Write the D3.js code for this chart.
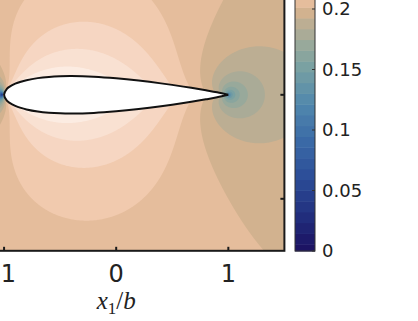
<!DOCTYPE html>
<html>
<head>
<meta charset="utf-8">
<script src="https://cdn.jsdelivr.net/npm/d3@7"></script>
<style>
  body { margin: 0; background: #fff; }
  svg { display: block; }
</style>
</head>
<body>
<svg id="chart" width="418" height="321"></svg>
<script>
// NACA 0018 ordinates, % of chord (chord spans x1/b = -1 .. 1)
const stationX = [0, 1.25, 2.5, 5, 7.5, 10, 15, 20, 25, 30, 40, 50, 60, 70, 80, 90, 95, 100];
const stationY = [0, 2.841, 3.922, 5.332, 6.300, 7.024, 8.018, 8.606, 8.912, 9.003, 8.705, 7.941, 6.845, 5.496, 3.935, 2.172, 1.213, 0];

// free stream value; source strength on the fore and aft parts of the chord
const freeStream = 0.2025;
const foreStrength = 1.0;
const aftStrength = 1.42;
// half height of the open jet around the airfoil (x1/b)
const jetHalfHeight = 2.6;
const imageCount = 5;

// contour levels
const levels = [0.0056, 0.0145, 0.0234, 0.0323, 0.0412, 0.0501, 0.059, 0.0679, 0.0768, 0.0857,
  0.0946, 0.1035, 0.1124, 0.1213, 0.1302, 0.1391, 0.148, 0.1569, 0.1658, 0.1747, 0.1836,
  0.1925, 0.2014, 0.2103, 0.2192, 0.2281, 0.237, 0.2459, 0.2548, 0.2637];

// colormap stops
const cmapValues = [0, 0.03, 0.06, 0.09, 0.12, 0.15, 0.17, 0.185, 0.197, 0.206, 0.215, 0.224, 0.233, 0.242, 0.251, 0.26];
const cmapColors = ["#1b1060", "#222f7e", "#2b4c97", "#3a69a6", "#4f86ad", "#76a0a3", "#98a99b", "#b5ad94",
  "#d2b28f", "#e5bd9c", "#f1caae", "#f6d7c3", "#f9e2d3", "#fcede3", "#fef6f1", "#ffffff"];

const xTicks = [-1, 0, 1];
const yTicks = [-1, 0, 1];
const cbTicks = [0, 0.05, 0.1, 0.15, 0.2];

const svg = d3.select("#chart");
const x = d3.scaleLinear([-1.5, 1.5], [-52, 284.4]);
const y = d3.scaleLinear([-1.5, 1.5], [250.8, -61.2]);
const color = d3.scaleLinear(cmapValues, cmapColors).clamp(true);
const bandColor = k => {
  const lo = k === 0 ? 0 : levels[k - 1];
  const hi = k < levels.length ? levels[k] : levels[levels.length - 1] + 0.009;
  return color((lo + hi) / 2);
};

// source panels along the chord, strength from the thickness slope,
// mirrored with alternating sign across the jet boundaries
const basePanels = d3.pairs(d3.zip(stationX, stationY)).map(([a, b]) => {
  const slope = (b[1] - a[1]) / (b[0] - a[0]);
  return {
    x1: -1 + a[0] / 50, x2: -1 + b[0] / 50,
    s: 2 * freeStream * slope * (slope > 0 ? foreStrength : aftStrength)
  };
});
const panels = d3.range(-imageCount, imageCount + 1).flatMap(n =>
  basePanels.map(p => ({...p, yc: 2 * n * jetHalfHeight, s: (n % 2 ? -1 : 1) * p.s})));

function speed(px, py) {
  let u = freeStream, v = 0;
  for (const p of panels) {
    const d1 = px - p.x1, d2 = px - p.x2, dy = py - p.yc;
    const r1 = d1 * d1 + dy * dy + 1e-9, r2 = d2 * d2 + dy * dy + 1e-9;
    u += p.s / (4 * Math.PI) * Math.log(r1 / r2);
    v += p.s / (2 * Math.PI) * (Math.atan2(dy, d2) - Math.atan2(dy, d1));
  }
  return Math.hypot(u, v);
}

// field sampled on the pixel grid of the plot area
const x0 = 0, x1 = Math.ceil(x(1.5)), y0 = 0, y1 = Math.ceil(y(-1.5));
const nx = x1 - x0 + 1, ny = y1 - y0 + 1;
const values = new Float64Array(nx * ny);
for (let j = 0; j < ny; j++) {
  for (let i = 0; i < nx; i++) {
    values[i + j * nx] = speed(x.invert(x0 + i), y.invert(y0 + j));
  }
}

svg.append("defs").append("clipPath").attr("id", "plotclip")
  .append("rect")
  .attr("x", x(-1.5)).attr("y", y(1.5))
  .attr("width", x(1.5) - x(-1.5)).attr("height", y(-1.5) - y(1.5));

const plot = svg.append("g").attr("clip-path", "url(#plotclip)");

plot.append("rect")
  .attr("x", x(-1.5)).attr("y", y(1.5))
  .attr("width", x(1.5) - x(-1.5)).attr("height", y(-1.5) - y(1.5))
  .attr("fill", bandColor(0));

const contours = d3.contours().size([nx, ny]).thresholds(levels)(values);
const gridPath = d3.geoPath(d3.geoTransform({
  point(px, py) { this.stream.point(x0 + px - 0.5, y0 + py - 0.5); }
}));

plot.append("g")
  .selectAll("path")
  .data(contours)
  .join("path")
  .attr("d", gridPath)
  .attr("fill", (d, k) => bandColor(k + 1));

// airfoil outline
const outline = stationX.map((s, i) => [-1 + s / 50, stationY[i] / 50]).reverse()
  .concat(stationX.slice(1).map((s, i) => [-1 + s / 50, -stationY[i + 1] / 50]));
plot.append("path")
  .datum(outline)
  .attr("d", d3.line(d => x(d[0]), d => y(d[1])).curve(d3.curveCatmullRom.alpha(0.5)))
  .attr("fill", "#fff")
  .attr("stroke", "#111")
  .attr("stroke-width", 2);

// frame (bottom and right are the only visible sides)
svg.append("rect")
  .attr("x", x(-1.5)).attr("y", y(1.5))
  .attr("width", x(1.5) - x(-1.5)).attr("height", y(-1.5) - y(1.5))
  .attr("fill", "none").attr("stroke", "#1a1a1a").attr("stroke-width", 2);

svg.append("g").selectAll("line").data(xTicks).join("line")
  .attr("x1", d => x(d)).attr("x2", d => x(d))
  .attr("y1", y(-1.5)).attr("y2", y(-1.5) - 4)
  .attr("stroke", "#1a1a1a").attr("stroke-width", 2);

svg.append("g").selectAll("line").data(yTicks).join("line")
  .attr("x1", x(1.5)).attr("x2", x(1.5) - 4)
  .attr("y1", d => y(d)).attr("y2", d => y(d))
  .attr("stroke", "#1a1a1a").attr("stroke-width", 2);

svg.append("g").selectAll("text").data(xTicks).join("text")
  .attr("x", d => x(d)).attr("y", 282)
  .attr("text-anchor", "middle")
  .attr("font-family", "DejaVu Sans").attr("font-size", 24)
  .attr("fill", "#222")
  .text(d => String(d));

const label = svg.append("text")
  .attr("x", x(0)).attr("y", 309)
  .attr("text-anchor", "middle")
  .attr("font-family", "Liberation Serif").attr("font-size", 25)
  .attr("fill", "#222");
label.append("tspan").attr("font-style", "italic").text("x");
label.append("tspan").attr("font-size", 17).attr("dy", 5).text("1");
label.append("tspan").attr("dy", -5).text("/");
label.append("tspan").attr("font-style", "italic").text("b");

// colorbar
const cb = d3.scaleLinear([0, 0.2], [251, 9]);
const cbLeft = 295, cbWidth = 20;
const cbEdges = [0].concat(levels);
const cbTop = k => cb(k + 1 < cbEdges.length ? cbEdges[k + 1] : cbEdges[k] + 0.009);
svg.append("g").selectAll("rect").data(cbEdges).join("rect")
  .attr("x", cbLeft)
  .attr("y", (d, k) => cbTop(k))
  .attr("width", cbWidth)
  .attr("height", (d, k) => cb(d) - cbTop(k) + 0.5)
  .attr("fill", (d, k) => bandColor(k));

svg.append("rect")
  .attr("x", cbLeft).attr("y", cb(0.3))
  .attr("width", cbWidth).attr("height", cb(0) - cb(0.3))
  .attr("fill", "none").attr("stroke", "#333").attr("stroke-width", 1);

svg.append("g").selectAll("line").data(cbTicks).join("line")
  .attr("x1", cbLeft + cbWidth - 3).attr("x2", cbLeft + cbWidth)
  .attr("y1", d => cb(d)).attr("y2", d => cb(d))
  .attr("stroke", "#333").attr("stroke-width", 1);

svg.append("g").selectAll("text").data(cbTicks).join("text")
  .attr("x", 322).attr("y", d => cb(d)).attr("dy", "0.36em")
  .attr("font-family", "DejaVu Sans").attr("font-size", 18)
  .attr("fill", "#222")
  .text(d => String(d));
</script>
</body>
</html>
